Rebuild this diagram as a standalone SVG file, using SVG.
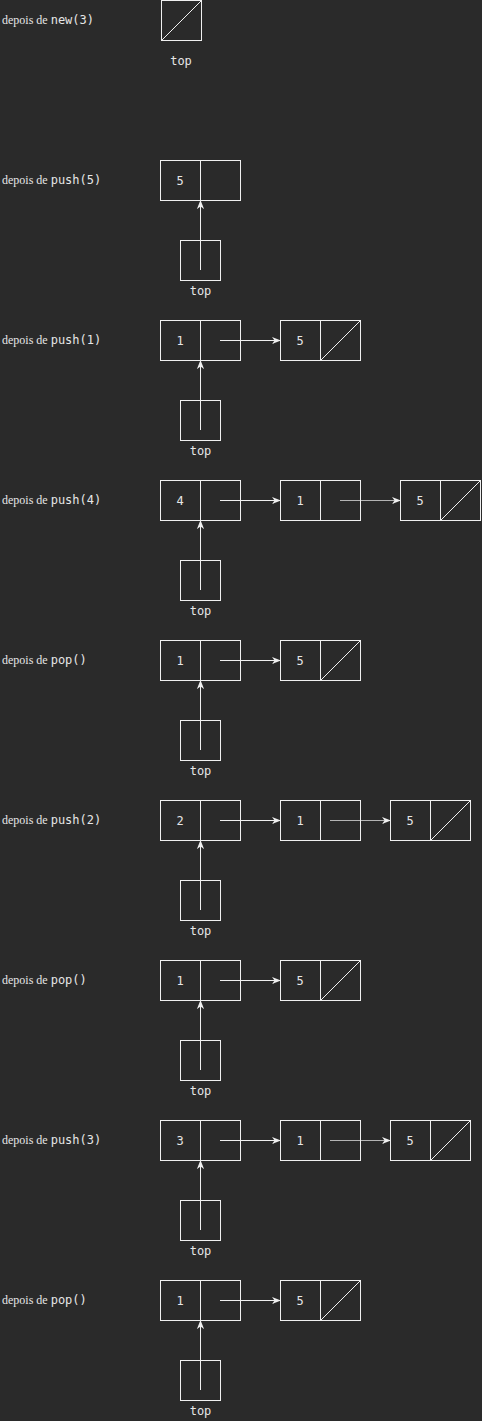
<svg xmlns="http://www.w3.org/2000/svg" width="482" height="1421" viewBox="0 0 482 1421">
<defs>
<style>
.bg{fill:#2a2a2a}
.box{fill:none;stroke:#f0f0f0;stroke-width:1}
.sl{stroke:#f0f0f0;stroke-width:1}
.lnk{stroke:#f0f0f0;stroke-width:1;fill:none}
.lbl{font-family:"Liberation Serif",serif;font-size:12px;fill:#e6e6e6}
.mono{font-family:"DejaVu Sans Mono","Liberation Mono",monospace;font-size:12px;fill:#e6e6e6}
.val{font-family:"DejaVu Sans Mono","Liberation Mono",monospace;font-size:12px;fill:#e6e6e6;text-anchor:middle}
</style>
<marker id="ah" viewBox="0 0 10 10" refX="9" refY="5" markerWidth="9" markerHeight="9" markerUnits="userSpaceOnUse" orient="auto">
<path d="M0,1 L10,5 L0,9 L3,5 Z" fill="#f0f0f0"/>
</marker>
</defs>
<rect class="bg" x="0" y="0" width="482" height="1421"/>

<!-- labels -->
<g id="labels">
<text class="lbl" x="2" y="24">depois de <tspan class="mono">new(3)</tspan></text>
<text class="lbl" x="2" y="184">depois de <tspan class="mono">push(5)</tspan></text>
<text class="lbl" x="2" y="344">depois de <tspan class="mono">push(1)</tspan></text>
<text class="lbl" x="2" y="504">depois de <tspan class="mono">push(4)</tspan></text>
<text class="lbl" x="2" y="664">depois de <tspan class="mono">pop()</tspan></text>
<text class="lbl" x="2" y="824">depois de <tspan class="mono">push(2)</tspan></text>
<text class="lbl" x="2" y="984">depois de <tspan class="mono">pop()</tspan></text>
<text class="lbl" x="2" y="1144">depois de <tspan class="mono">push(3)</tspan></text>
<text class="lbl" x="2" y="1304">depois de <tspan class="mono">pop()</tspan></text>
</g>

<!-- row 0: new(3) -->
<g id="top0">
<rect class="box" x="161.5" y="0.5" width="40" height="40"/>
<line class="sl" x1="161.5" y1="40.5" x2="201.5" y2="0.5"/>
<text class="val" x="181" y="65">top</text>
</g>

<!-- row 1: push(5) -->
<g id="r1n1"><rect class="box" x="160.5" y="160.5" width="80" height="40"/><line class="sl" x1="200.5" y1="160.5" x2="200.5" y2="200.5"/><text class="val" x="180" y="185">5</text></g>
<g id="r1top"><rect class="box" x="180.5" y="240.5" width="40" height="40"/><text class="val" x="200.5" y="295">top</text></g>

<!-- row 2: push(1) -->
<g id="r2n1"><rect class="box" x="160.5" y="320.5" width="80" height="40"/><line class="sl" x1="200.5" y1="320.5" x2="200.5" y2="360.5"/><text class="val" x="180" y="345">1</text></g>
<g id="r2n2"><rect class="box" x="280.5" y="320.5" width="80" height="40"/><line class="sl" x1="320.5" y1="320.5" x2="320.5" y2="360.5"/><line class="sl" x1="320.5" y1="360.5" x2="360.5" y2="320.5"/><text class="val" x="300" y="345">5</text></g>
<g id="r2top"><rect class="box" x="180.5" y="400.5" width="40" height="40"/><text class="val" x="200.5" y="455">top</text></g>

<!-- row 3: push(4) -->
<g id="r3n1"><rect class="box" x="160.5" y="480.5" width="80" height="40"/><line class="sl" x1="200.5" y1="480.5" x2="200.5" y2="520.5"/><text class="val" x="180" y="505">4</text></g>
<g id="r3n2"><rect class="box" x="280.5" y="480.5" width="80" height="40"/><line class="sl" x1="320.5" y1="480.5" x2="320.5" y2="520.5"/><text class="val" x="300" y="505">1</text></g>
<g id="r3n3"><rect class="box" x="400.5" y="480.5" width="80" height="40"/><line class="sl" x1="440.5" y1="480.5" x2="440.5" y2="520.5"/><line class="sl" x1="440.5" y1="520.5" x2="480.5" y2="480.5"/><text class="val" x="420" y="505">5</text></g>
<g id="r3top"><rect class="box" x="180.5" y="560.5" width="40" height="40"/><text class="val" x="200.5" y="615">top</text></g>

<!-- row 4: pop() -->
<g id="r4n1"><rect class="box" x="160.5" y="640.5" width="80" height="40"/><line class="sl" x1="200.5" y1="640.5" x2="200.5" y2="680.5"/><text class="val" x="180" y="665">1</text></g>
<g id="r4n2"><rect class="box" x="280.5" y="640.5" width="80" height="40"/><line class="sl" x1="320.5" y1="640.5" x2="320.5" y2="680.5"/><line class="sl" x1="320.5" y1="680.5" x2="360.5" y2="640.5"/><text class="val" x="300" y="665">5</text></g>
<g id="r4top"><rect class="box" x="180.5" y="720.5" width="40" height="40"/><text class="val" x="200.5" y="775">top</text></g>

<!-- row 5: push(2) -->
<g id="r5n1"><rect class="box" x="160.5" y="800.5" width="80" height="40"/><line class="sl" x1="200.5" y1="800.5" x2="200.5" y2="840.5"/><text class="val" x="180" y="825">2</text></g>
<g id="r5n2"><rect class="box" x="280.5" y="800.5" width="80" height="40"/><line class="sl" x1="320.5" y1="800.5" x2="320.5" y2="840.5"/><text class="val" x="300" y="825">1</text></g>
<g id="r5n3"><rect class="box" x="390.5" y="800.5" width="80" height="40"/><line class="sl" x1="430.5" y1="800.5" x2="430.5" y2="840.5"/><line class="sl" x1="430.5" y1="840.5" x2="470.5" y2="800.5"/><text class="val" x="410" y="825">5</text></g>
<g id="r5top"><rect class="box" x="180.5" y="880.5" width="40" height="40"/><text class="val" x="200.5" y="935">top</text></g>

<!-- row 6: pop() -->
<g id="r6n1"><rect class="box" x="160.5" y="960.5" width="80" height="40"/><line class="sl" x1="200.5" y1="960.5" x2="200.5" y2="1000.5"/><text class="val" x="180" y="985">1</text></g>
<g id="r6n2"><rect class="box" x="280.5" y="960.5" width="80" height="40"/><line class="sl" x1="320.5" y1="960.5" x2="320.5" y2="1000.5"/><line class="sl" x1="320.5" y1="1000.5" x2="360.5" y2="960.5"/><text class="val" x="300" y="985">5</text></g>
<g id="r6top"><rect class="box" x="180.5" y="1040.5" width="40" height="40"/><text class="val" x="200.5" y="1095">top</text></g>

<!-- row 7: push(3) -->
<g id="r7n1"><rect class="box" x="160.5" y="1120.5" width="80" height="40"/><line class="sl" x1="200.5" y1="1120.5" x2="200.5" y2="1160.5"/><text class="val" x="180" y="1145">3</text></g>
<g id="r7n2"><rect class="box" x="280.5" y="1120.5" width="80" height="40"/><line class="sl" x1="320.5" y1="1120.5" x2="320.5" y2="1160.5"/><text class="val" x="300" y="1145">1</text></g>
<g id="r7n3"><rect class="box" x="390.5" y="1120.5" width="80" height="40"/><line class="sl" x1="430.5" y1="1120.5" x2="430.5" y2="1160.5"/><line class="sl" x1="430.5" y1="1160.5" x2="470.5" y2="1120.5"/><text class="val" x="410" y="1145">5</text></g>
<g id="r7top"><rect class="box" x="180.5" y="1200.5" width="40" height="40"/><text class="val" x="200.5" y="1255">top</text></g>

<!-- row 8: pop() -->
<g id="r8n1"><rect class="box" x="160.5" y="1280.5" width="80" height="40"/><line class="sl" x1="200.5" y1="1280.5" x2="200.5" y2="1320.5"/><text class="val" x="180" y="1305">1</text></g>
<g id="r8n2"><rect class="box" x="280.5" y="1280.5" width="80" height="40"/><line class="sl" x1="320.5" y1="1280.5" x2="320.5" y2="1320.5"/><line class="sl" x1="320.5" y1="1320.5" x2="360.5" y2="1280.5"/><text class="val" x="300" y="1305">5</text></g>
<g id="r8top"><rect class="box" x="180.5" y="1360.5" width="40" height="40"/><text class="val" x="200.5" y="1415">top</text></g>

<!-- connectors -->
<g id="connectors">
<line class="lnk" x1="200.5" y1="270" x2="200.5" y2="201" marker-end="url(#ah)"/>

<line class="lnk" x1="200.5" y1="430" x2="200.5" y2="361" marker-end="url(#ah)"/>
<line class="lnk" x1="220" y1="340.5" x2="280" y2="340.5" marker-end="url(#ah)"/>

<line class="lnk" x1="200.5" y1="590" x2="200.5" y2="521" marker-end="url(#ah)"/>
<line class="lnk" x1="220" y1="500.5" x2="280" y2="500.5" marker-end="url(#ah)"/>
<line class="lnk" x1="340" y1="500.5" x2="400" y2="500.5" marker-end="url(#ah)" stroke-opacity="0.7"/>

<line class="lnk" x1="200.5" y1="750" x2="200.5" y2="681" marker-end="url(#ah)"/>
<line class="lnk" x1="220" y1="660.5" x2="280" y2="660.5" marker-end="url(#ah)"/>

<line class="lnk" x1="200.5" y1="910" x2="200.5" y2="841" marker-end="url(#ah)"/>
<line class="lnk" x1="220" y1="820.5" x2="280" y2="820.5" marker-end="url(#ah)"/>
<line class="lnk" x1="330" y1="820.5" x2="390" y2="820.5" marker-end="url(#ah)" stroke-opacity="0.7"/>

<line class="lnk" x1="200.5" y1="1070" x2="200.5" y2="1001" marker-end="url(#ah)"/>
<line class="lnk" x1="220" y1="980.5" x2="280" y2="980.5" marker-end="url(#ah)"/>

<line class="lnk" x1="200.5" y1="1230" x2="200.5" y2="1161" marker-end="url(#ah)"/>
<line class="lnk" x1="220" y1="1140.5" x2="280" y2="1140.5" marker-end="url(#ah)"/>
<line class="lnk" x1="330" y1="1140.5" x2="390" y2="1140.5" marker-end="url(#ah)" stroke-opacity="0.7"/>

<line class="lnk" x1="200.5" y1="1390" x2="200.5" y2="1321" marker-end="url(#ah)"/>
<line class="lnk" x1="220" y1="1300.5" x2="280" y2="1300.5" marker-end="url(#ah)"/>
</g>
</svg>
